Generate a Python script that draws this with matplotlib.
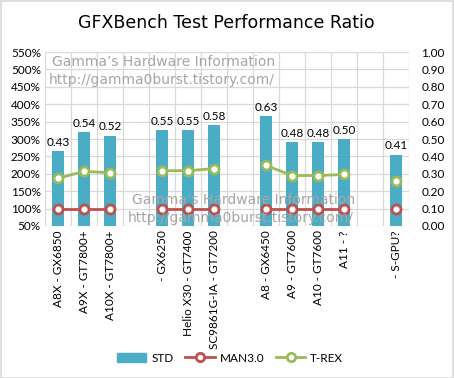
import matplotlib
matplotlib.use("Agg")
import matplotlib.pyplot as plt
from matplotlib.patches import Rectangle
from matplotlib.lines import Line2D
import numpy as np

categories = ["A8X - GX6850", "A9X - GT7800+", "A10X - GT7800+", "",
              " - GX6250", "Helio X30 - GT7400", "SC9861G-IA - GT7200", "",
              "A8 - GX6450", "A9 - GT7600", "A10 - GT7600", "A11 - ?", "",
              " - S-GPU?"]
std = [0.43, 0.54, 0.52, None, 0.55, 0.55, 0.58, None, 0.63, 0.48, 0.48, 0.50, None, 0.41]
man30 = [100, 100, 100, None, 100, 100, 100, None, 100, 100, 100, 100, None, 100]
trex = [187, 207, 203, None, 209, 209, 215, None, 224, 195, 195, 198, None, 179]
left_ticks = [50, 100, 150, 200, 250, 300, 350, 400, 450, 500, 550]
right_ticks = [0.0, 0.1, 0.2, 0.3, 0.4, 0.5, 0.6, 0.7, 0.8, 0.9, 1.0]

plt.rcParams['font.family'] = ['Lato', 'DejaVu Sans']

W, H = 454, 378
fig = plt.figure(figsize=(W / 100, H / 100), dpi=100)
fig.patch.set_facecolor("white")
fig.patches.append(Rectangle((0.5 / W, 0.5 / H), 1 - 1.5 / W, 1 - 1.5 / H, transform=fig.transFigure,
                             fill=False, edgecolor="#d9d9d9", linewidth=1.2))

L, R, T, B = 45, 409, 52, 226
ax = fig.add_axes([L / W, 1 - B / H, (R - L) / W, (B - T) / H])
ax2 = ax.twinx()

n = len(categories)
x = np.arange(n)

grid_c = "#d9d9d9"
ax.set_xlim(-0.5, n - 0.5)
ax.set_ylim(50, 550)
ax.set_yticks(left_ticks)
ax.set_yticklabels([f"{v}%" for v in left_ticks], fontsize=8.5)
for v in left_ticks:
    ax.axhline(v, color=grid_c, lw=0.9, zorder=0)
for b in np.arange(-0.5, n, 1.0):
    ax.axvline(b, color=grid_c, lw=0.9, zorder=0)
for s in ax.spines.values():
    s.set_visible(False)
for s in ax2.spines.values():
    s.set_visible(False)
ax.tick_params(axis="both", length=0, pad=3)
ax.set_xticks(x)
ax.set_xticklabels(categories, rotation=90, fontsize=8.5, va="top")

# bars on right axis
ax2.set_ylim(0, 1.0)
ax2.set_yticks(right_ticks)
ax2.set_yticklabels([f"{v:.2f}" for v in right_ticks], fontsize=8.5)
ax2.tick_params(axis="y", length=0, pad=9)
bx = [xi for xi, v in zip(x, std) if v is not None]
bv = [v for v in std if v is not None]
ax2.bar(bx, bv, width=0.43, color="#4BACC6", zorder=1)
for xi, v in zip(bx, bv):
    ax2.text(xi, v + 0.02, f"{v:.2f}", ha="center", va="bottom", fontsize=8.5, color="black")

def to_right(v):
    return (v - 50) / 500.0

def plot_segments(vals, color):
    seg_x, seg_y = [], []
    for xi, v in zip(x, vals):
        if v is None:
            if seg_x:
                ax2.plot(seg_x, seg_y, color=color, lw=2, marker="o", ms=6.5, mfc="white",
                         mec=color, mew=2, zorder=3)
            seg_x, seg_y = [], []
        else:
            seg_x.append(xi)
            seg_y.append(to_right(v))
    if seg_x:
        ax2.plot(seg_x, seg_y, color=color, lw=2, marker="o", ms=6.5, mfc="white",
                 mec=color, mew=2, zorder=3)

plot_segments(man30, "#C0504D")
plot_segments(trex, "#9BBB59")

# watermarks
wm_c = "#a6a6a6"
wm_font = ['DejaVu Sans']
fig.text(52 / W, 1 - 62 / H, "Gamma\u2019s Hardware Information", fontsize=10, color=wm_c,
         ha="left", va="center", zorder=10, family=wm_font)
fig.text(49 / W, 1 - 80 / H, "http://gamma0burst.tistory.com/", fontsize=10, color=wm_c,
         ha="left", va="center", zorder=10, family=wm_font)
fig.text(132 / W, 1 - 200 / H, "Gamma\u2019s Hardware Information", fontsize=10, color=wm_c,
         ha="left", va="center", zorder=10, family=wm_font)
fig.text(128 / W, 1 - 218 / H, "http://gamma0burst.tistory.com/", fontsize=10, color=wm_c,
         ha="left", va="center", zorder=10, family=wm_font)

fig.text(226 / W, 1 - 23 / H, "GFXBench Test Performance Ratio", fontsize=12.5, ha="center",
         va="center", color="black", family=['DejaVu Sans'])

handles = [Rectangle((0, 0), 1, 1, color="#4BACC6"),
           Line2D([], [], color="#C0504D", lw=2, marker="o", ms=6, mfc="white", mec="#C0504D", mew=2),
           Line2D([], [], color="#9BBB59", lw=2, marker="o", ms=6, mfc="white", mec="#9BBB59", mew=2)]
fig.legend(handles, ["STD", "MAN3.0", "T-REX"], loc="center", bbox_to_anchor=(230 / W, 1 - 358 / H),
           ncol=3, frameon=False, fontsize=8.5, handlelength=2.5, columnspacing=1.0, handletextpad=0.4)

fig.savefig("out.png", dpi=100, facecolor="white")
